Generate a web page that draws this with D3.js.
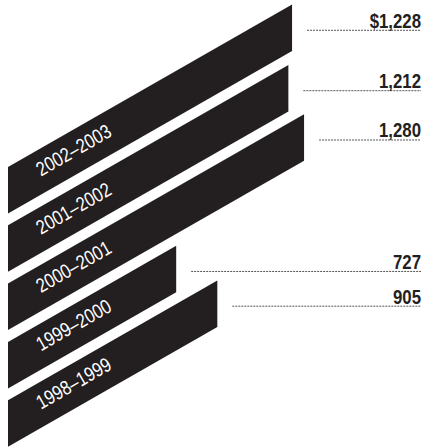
<!DOCTYPE html>
<html>
<head>
<meta charset="utf-8">
<script src="https://cdn.jsdelivr.net/npm/d3@7"></script>
<style>
  html, body { margin: 0; padding: 0; background: #fff; }
  svg { display: block; }
</style>
</head>
<body>
<div id="chart"></div>
<script>
// Academic years, top bar first
const periods = ["2002–2003", "2001–2002", "2000–2001", "1999–2000", "1998–1999"];
// Amount for each year
const amounts = [1228, 1212, 1280, 727, 905];
// Printed value labels
const amountLabels = ["$1,228", "1,212", "1,280", "727", "905"];

const W = 423, H = 448;
const ink = "#231f20";
const slope = 0.572;                 // rise per px of bar length
const angle = Math.atan(slope) * 180 / Math.PI;
const labelRight = 421;

const svg = d3.select("#chart").append("svg")
  .attr("width", W).attr("height", H);

// horizontal length of each bar
const x = d3.scaleLinear().domain([0, 1300]).range([8, 8 + 300.7]);
// vertical position of each bar's left edge
const y = d3.scaleBand().domain(periods).range([167, 446.7])
  .paddingInner(0.202).paddingOuter(0);
const bw = y.bandwidth();

const data = periods.map((p, i) => {
  const x0 = x(0), x1 = x(amounts[i]);
  const yTopL = y(p);
  const yTopR = yTopL - (x1 - x0) * slope;
  return { period: p, value: amounts[i], label: amountLabels[i], x0, x1, yTopL, yTopR };
});

// slanted bars
svg.append("g").selectAll("path").data(data).join("path")
  .attr("d", d => {
    const pts = [[d.x0, d.yTopL], [d.x1, d.yTopR], [d.x1, d.yTopR + bw], [d.x0, d.yTopL + bw]];
    return d3.line()(pts) + "Z";
  })
  .attr("fill", ink);

// year labels running along each bar
svg.append("g").selectAll("text").data(data).join("text")
  .attr("transform", d => {
    const px = d.x0 + 33;
    const py = d.yTopL + bw - 33 * slope - 18;
    return `translate(${px},${py}) rotate(${-angle})`;
  })
  .attr("fill", "#fff")
  .attr("font-family", "'Liberation Sans Narrow', 'Liberation Sans', sans-serif")
  .attr("font-size", 20)
  .attr("textLength", 83)
  .attr("lengthAdjust", "spacingAndGlyphs")
  .text(d => d.period);

// leader line heights: middle of each bar's right end, kept apart
const leaders = data.map(d => ({ d, ly: d.yTopR + bw / 2 + 2 }));
const sorted = leaders.slice().sort((a, b) => b.ly - a.ly);
for (let i = 1; i < sorted.length; i++) {
  if (sorted[i - 1].ly - sorted[i].ly < 30) sorted[i].ly = sorted[i - 1].ly - 30;
}

const lg = svg.append("g");
lg.selectAll("line").data(leaders).join("line")
  .attr("x1", l => l.d.x1 + 15)
  .attr("x2", labelRight)
  .attr("y1", l => l.ly + 0.5)
  .attr("y2", l => l.ly + 0.5)
  .attr("stroke", "#555")
  .attr("stroke-width", 1)
  .attr("stroke-dasharray", "2,1");

lg.selectAll("text").data(leaders).join("text")
  .attr("transform", l => `translate(${labelRight},${l.ly - 2}) scale(0.8,1)`)
  .attr("text-anchor", "end")
  .attr("fill", ink)
  .attr("font-family", "'Liberation Sans Narrow', 'Liberation Sans', sans-serif")
  .attr("font-weight", "bold")
  .attr("font-size", 21)
  .text(l => l.d.label);
</script>
</body>
</html>
